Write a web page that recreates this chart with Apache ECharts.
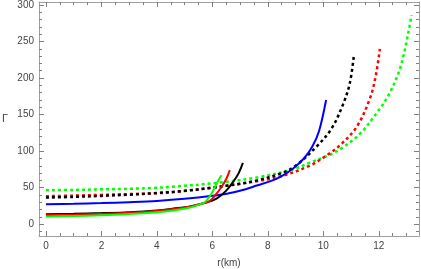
<!DOCTYPE html>
<html><head><meta charset="utf-8">
<script src="https://cdn.jsdelivr.net/npm/echarts@6/dist/echarts.min.js"></script>
<style>html,body{margin:0;padding:0;background:#fff}#c{width:421px;height:269px}</style>
</head><body><div id="c"></div>
<script>
// Data
const blueX = [0, 1, 2, 3, 4, 5, 6, 6.6, 7.2, 7.6, 8.1, 8.5, 8.9, 9.3, 9.6, 9.85, 10.1];
const blueY = [27.5, 28, 29, 30.3, 32, 34.8, 39, 42.5, 48, 53, 59, 66, 76, 90, 106, 128, 170];
const blackSolidX = [0, 1, 2, 3, 4, 4.6, 5.2, 5.7, 6.15, 6.5, 6.75, 6.95, 7.1];
const blackSolidY = [13.7, 14.3, 15.3, 16.6, 19, 21.5, 24.5, 29, 35, 46, 58, 70, 84];
const redSolidX = [0, 1, 2, 3, 4, 4.6, 5.2, 5.6, 5.9, 6.15, 6.33, 6.5, 6.63];
const redSolidY = [12.5, 13.2, 14.3, 15.8, 18.3, 20.8, 24.5, 28, 31.5, 42, 51, 62, 74];
const greenSolidX = [0, 1, 2, 3, 4, 4.6, 5.2, 5.5, 5.75, 5.97, 6.15, 6.33];
const greenSolidY = [10.5, 11.2, 12.5, 14, 16.5, 19, 23, 26.5, 31, 42, 55.5, 67];
const blackDotX = [0, 1, 2, 3, 4, 5, 6, 7, 7.6, 8.5, 9, 9.75, 10.3, 10.7, 10.95, 11.1];
const blackDotY = [36.6, 37.5, 38.8, 40.5, 42.8, 45.8, 50, 55.5, 60, 70, 80, 106, 131, 163, 192, 230];
const redDotX = [0, 1, 2, 3, 3.75, 4.6, 6.15, 7.6, 8.5, 9.5, 10.23, 10.6, 11.2, 11.68, 11.9, 12.04];
const redDotY = [38.4, 39.2, 40.2, 41.3, 42.2, 44, 51, 59, 66, 80, 97, 108, 133, 172, 205, 240];
const greenDotX = [0, 1, 2, 3, 3.75, 4.6, 6.15, 7.6, 8.9, 9.5, 10.23, 10.7, 11.3, 11.92, 12.4, 12.82, 13.18];
const greenDotY = [46.6, 47, 47.8, 48.6, 49.5, 51.5, 56.6, 64, 75, 84, 95, 105, 123, 152, 180, 220, 286];

const xMajor = [0, 2, 4, 6, 8, 10, 12];
const yMajor = [0, 50, 100, 150, 200, 250, 300];

const xMinor = []; for (let v = 0; v <= 13.4; v += 0.5) xMinor.push(+v.toFixed(1));
const yMinor = []; for (let v = -10; v <= 300; v += 10) yMinor.push(v);

const zip = (xs, ys) => xs.map((x, i) => [x, ys[i]]);
const frame = '#a0a0a0';
const tickC = '#808080';
const X0 = -0.25, X1 = 13.45, Y0 = -16, Y1 = 304;

function xAx(pos, vals, len, labels, line) {
  return {
    type: 'value', position: pos, min: X0, max: X1,
    axisLine: { show: line, onZero: false, lineStyle: { color: frame, width: 1 } },
    axisTick: { show: true, inside: true, length: len, customValues: vals, lineStyle: { color: tickC, width: 1 } },
    axisLabel: { show: labels, customValues: xMajor, margin: 5, color: '#444', fontSize: 10, fontFamily: 'Liberation Sans' },
    splitLine: { show: false },
    name: labels ? 'r(km)' : '', nameLocation: 'middle', nameGap: 22,
    nameTextStyle: { color: '#444', fontSize: 10, fontFamily: 'Liberation Sans' }
  };
}
function yAx(pos, vals, len, labels, line) {
  return {
    type: 'value', position: pos, min: Y0, max: Y1,
    axisLine: { show: line, onZero: false, lineStyle: { color: frame, width: 1 } },
    axisTick: { show: true, inside: true, length: len, customValues: vals, lineStyle: { color: tickC, width: 1 } },
    axisLabel: { show: labels, customValues: yMajor, margin: 5, color: '#444', fontSize: 10, fontFamily: 'Liberation Sans' },
    splitLine: { show: false },
    name: labels ? 'Γ' : '', nameLocation: 'middle', nameGap: 31, nameRotate: 0,
    nameTextStyle: { color: '#444', fontSize: 11, fontFamily: 'Liberation Sans' }
  };
}

function line(xs, ys, color, dotted) {
  return {
    type: 'line', data: zip(xs, ys), smooth: 0.35, showSymbol: false, symbol: 'none',
    xAxisIndex: 0, yAxisIndex: 0,
    lineStyle: dotted ? { color, width: 2.5, type: [3, 3], cap: 'butt' } : { color, width: 2 },
    silent: true, animation: false
  };
}

const chart = echarts.init(document.getElementById('c'), null, { renderer: 'canvas' });
chart.setOption({
  animation: false,
  grid: { left: 39, right: 2, top: 2, bottom: 33, containLabel: false, outerBoundsMode: 'none' },
  xAxis: [
    xAx('bottom', xMajor, 5, true, true),
    xAx('bottom', xMinor, 3, false, false),
    xAx('top', xMajor, 5, false, true),
    xAx('top', xMinor, 3, false, false)
  ],
  yAxis: [
    yAx('left', yMajor, 5, true, true),
    yAx('left', yMinor, 3, false, false),
    yAx('right', yMajor, 5, false, true),
    yAx('right', yMinor, 3, false, false)
  ],
  series: [
    line(greenDotX, greenDotY, '#00ff00', true),
    line(redDotX, redDotY, '#ff0000', true),
    line(blackDotX, blackDotY, '#000000', true),
    line(blueX, blueY, '#0000ff', false),
    line(blackSolidX, blackSolidY, '#000000', false),
    line(redSolidX, redSolidY, '#ff0000', false),
    line(greenSolidX, greenSolidY, '#00ff00', false)
  ]
});
</script>
</body></html>
